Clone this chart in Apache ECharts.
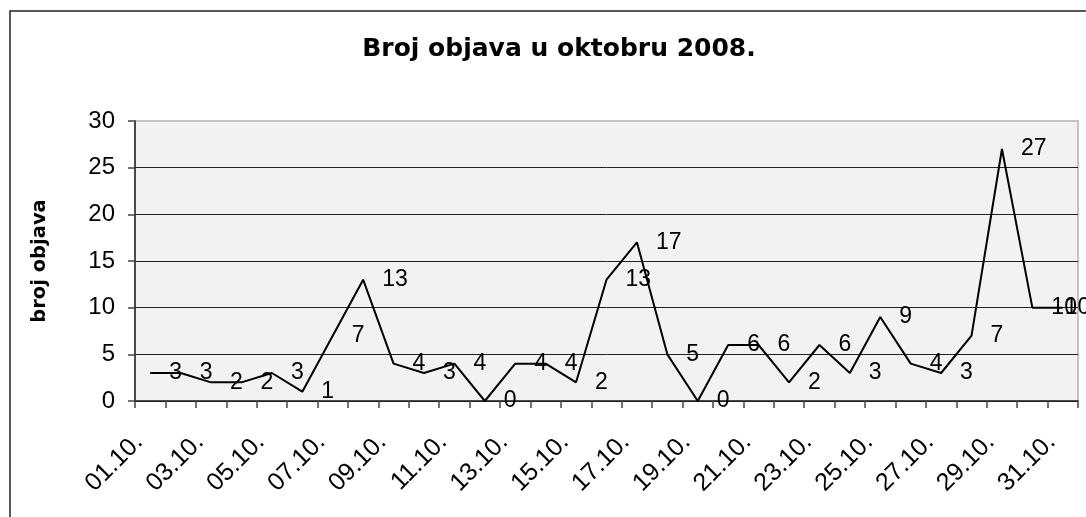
<!DOCTYPE html>
<html>
<head>
<meta charset="utf-8">
<script src="https://cdn.jsdelivr.net/npm/echarts@6/dist/echarts.min.js"></script>
<style>
  html, body { margin: 0; padding: 0; background: #fff; }
  #chart { width: 1086px; height: 517px; }
</style>
</head>
<body>
<div id="chart"></div>
<script>
// dani u oktobru
const days = ['01.10.', '02.10.', '03.10.', '04.10.', '05.10.', '06.10.', '07.10.', '08.10.',
  '09.10.', '10.10.', '11.10.', '12.10.', '13.10.', '14.10.', '15.10.', '16.10.',
  '17.10.', '18.10.', '19.10.', '20.10.', '21.10.', '22.10.', '23.10.', '24.10.',
  '25.10.', '26.10.', '27.10.', '28.10.', '29.10.', '30.10.', '31.10.']
// broj objava po danu
const posts = [3, 3, 2, 2, 3, 1, 7, 13, 4, 3, 4, 0, 4, 4, 2, 13,
  17, 5, 0, 6, 6, 2, 6, 3, 9, 4, 3, 7, 27, 10, 10]
const yTicks = [0, 5, 10, 15, 20, 25, 30]

const numFont = 'Liberation Sans'
const boldFont = 'DejaVu Sans'

// poslednja labela je pomjerena ulijevo, kao u Excelu
const seriesData = posts.map((v, i) => {
  if (i === posts.length - 1) {
    return {value: v, label: {distance: 2}}
  }
  return v
})

const chart = echarts.init(document.getElementById('chart'))
chart.setOption({
  backgroundColor: '#fff',
  animation: false,
  title: {
    text: 'Broj objava u oktobru 2008.',
    left: 554,
    top: 32,
    textAlign: 'center',
    textStyle: {
      fontFamily: boldFont,
      fontWeight: 'bold',
      fontSize: 25,
      color: '#000'
    }
  },
  graphic: [{
    type: 'rect',
    shape: {x: 10, y: 11, width: 1200, height: 700},
    style: {fill: 'none', stroke: '#222', lineWidth: 1.5},
    z: 100
  }],
  grid: {
    show: true,
    left: 135,
    right: 8,
    top: 121,
    bottom: 116,
    backgroundColor: '#f2f2f2',
    borderColor: '#c4c4c4',
    borderWidth: 2
  },
  xAxis: {
    type: 'category',
    data: days,
    boundaryGap: true,
    axisLine: {lineStyle: {color: '#222', width: 1.5}},
    axisTick: {show: true, interval: 0, length: 7, lineStyle: {color: '#444', width: 1.5}},
    axisLabel: {
      interval: 1,
      rotate: 45,
      margin: 26,
      padding: [0, 16, 0, 0],
      fontFamily: numFont,
      fontSize: 25,
      color: '#000'
    }
  },
  yAxis: {
    type: 'value',
    min: yTicks[0],
    max: yTicks[yTicks.length - 1],
    interval: 5,
    name: 'broj objava',
    nameLocation: 'middle',
    nameGap: 85,
    nameRotate: 90,
    nameTextStyle: {
      fontFamily: boldFont,
      fontWeight: 'bold',
      fontSize: 19.5,
      color: '#000'
    },
    axisLine: {show: true, lineStyle: {color: '#222', width: 1.5}},
    axisTick: {show: true, length: 7, lineStyle: {color: '#444', width: 1.5}},
    axisLabel: {
      margin: 20,
      fontFamily: numFont,
      fontSize: 24,
      color: '#000'
    },
    splitLine: {
      show: true,
      lineStyle: {
        color: ['#222', '#222', '#222', '#222', '#222', '#222', '#c4c4c4'],
        width: 1
      }
    }
  },
  series: [{
    name: 'broj objava',
    type: 'line',
    data: seriesData,
    symbol: 'circle',
    symbolSize: 0,
    showSymbol: true,
    itemStyle: {color: '#000'},
    lineStyle: {color: '#000', width: 2},
    label: {
      show: true,
      position: 'right',
      distance: 19,
      fontFamily: numFont,
      fontSize: 23,
      color: '#000'
    },
    labelLayout: {hideOverlap: false}
  }]
})
</script>
</body>
</html>
